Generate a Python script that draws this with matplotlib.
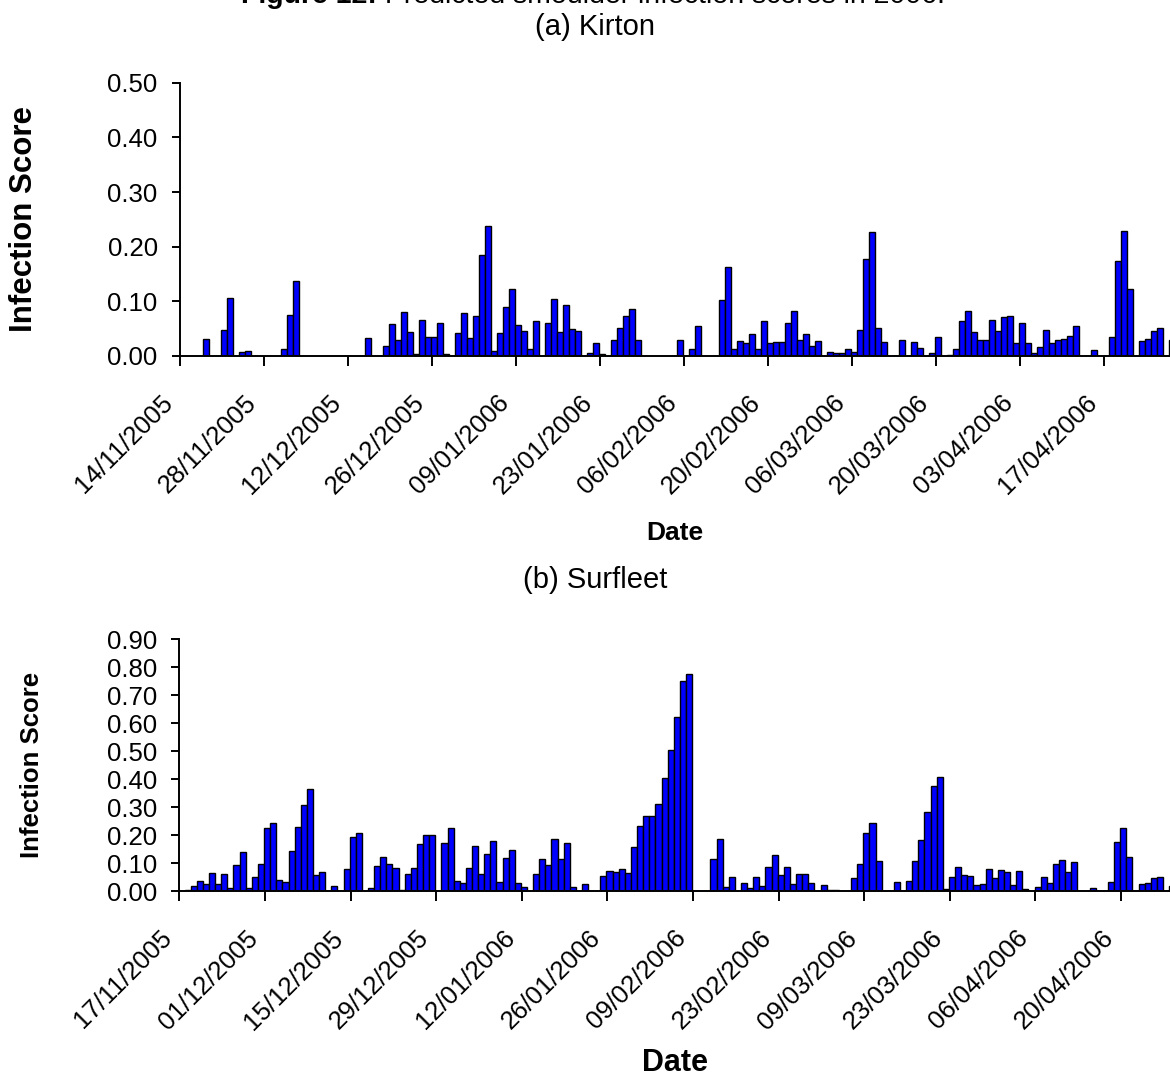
import matplotlib
matplotlib.use("Agg")
import matplotlib.pyplot as plt
import matplotlib.dates as mdates
import matplotlib.transforms as mtransforms
import numpy as np
import pandas as pd

plt.rcParams['font.family'] = ['Liberation Sans', 'DejaVu Sans']

# Kirton, daily scores from 14/11/2005 (one row per week)
kirton_start = "2005-11-14"
kirton = [
    0, 0, 0, 0, 0.031, 0, 0,
    0.048, 0.106, 0, 0.007, 0.009, 0, 0,
    0, 0, 0, 0.012, 0.075, 0.137, 0,
    0, 0, 0, 0, 0, 0, 0,
    0, 0, 0, 0.033, 0, 0, 0.018,
    0.059, 0.029, 0.081, 0.044, 0.004, 0.066, 0.035,
    0.035, 0.060, 0.003, 0, 0.042, 0.079, 0.033,
    0.073, 0.185, 0.237, 0.009, 0.042, 0.090, 0.123,
    0.056, 0.046, 0.012, 0.064, 0, 0.060, 0.105,
    0.044, 0.094, 0.049, 0.045, 0, 0.006, 0.023,
    0.004, 0, 0.029, 0.052, 0.073, 0.085, 0.030,
    0, 0, 0, 0, 0, 0, 0.029,
    0, 0.012, 0.054, 0, 0, 0, 0.102,
    0.162, 0.012, 0.027, 0.023, 0.040, 0.012, 0.064,
    0.023, 0.025, 0.025, 0.060, 0.083, 0.029, 0.041,
    0.018, 0.027, 0, 0.008, 0.006, 0.005, 0.012,
    0.008, 0.048, 0.177, 0.226, 0.051, 0.025, 0,
    0, 0.030, 0, 0.025, 0.014, 0, 0.006,
    0.035, 0, 0.002, 0.012, 0.064, 0.083, 0.043,
    0.030, 0.029, 0.066, 0.045, 0.072, 0.074, 0.023,
    0.060, 0.024, 0.006, 0.016, 0.047, 0.024, 0.029,
    0.031, 0.037, 0.054, 0, 0, 0.010, 0,
    0, 0.035, 0.174, 0.229, 0.123, 0, 0.027,
    0.031, 0.046, 0.051, 0, 0.030,
]

# Surfleet, daily scores from 17/11/2005
surfleet_start = "2005-11-17"
surfleet = [
    0, 0.004, 0.018, 0.038, 0.025, 0.067, 0.025,
    0.061, 0.012, 0.095, 0.139, 0.012, 0.050, 0.099,
    0.227, 0.243, 0.040, 0.033, 0.144, 0.231, 0.308,
    0.365, 0.057, 0.068, 0, 0.018, 0, 0.081,
    0.195, 0.207, 0, 0.011, 0.092, 0.123, 0.096,
    0.085, 0.004, 0.061, 0.085, 0.169, 0.200, 0.200,
    0, 0.174, 0.227, 0.037, 0.030, 0.085, 0.161,
    0.061, 0.132, 0.181, 0.035, 0.119, 0.146, 0.030,
    0.014, 0, 0.061, 0.114, 0.093, 0.186, 0.114,
    0.173, 0.014, 0, 0.027, 0, 0, 0.054,
    0.074, 0.068, 0.081, 0.064, 0.157, 0.235, 0.270,
    0.270, 0.313, 0.406, 0.505, 0.623, 0.750, 0.777,
    0, 0, 0, 0.115, 0.186, 0.014, 0.050,
    0, 0.029, 0.011, 0.050, 0.018, 0.086, 0.131,
    0.057, 0.086, 0.026, 0.061, 0.061, 0.031, 0,
    0.021, 0.004, 0.004, 0, 0, 0.046, 0.096,
    0.210, 0.243, 0.108, 0, 0, 0.033, 0,
    0.038, 0.108, 0.182, 0.282, 0.375, 0.407, 0.007,
    0.050, 0.086, 0.057, 0.054, 0.021, 0.027, 0.081,
    0.046, 0.077, 0.068, 0.023, 0.074, 0.007, 0,
    0.014, 0.052, 0.030, 0.096, 0.112, 0.068, 0.104,
    0, 0, 0.012, 0, 0, 0.033, 0.175,
    0.227, 0.123, 0, 0.026, 0.030, 0.046, 0.050,
    0, 0.020,
]

end_date = "2006-04-28"
title_bold = "Figure 12:"
title_rest = " Predicted smoulder infection scores in 2006."

BLUE = "#0000ff"


def draw_panel(fig, ax, start, values, ymax, ylabel_size, xlabel_size, ylab_x, xlab_y):
    dates = pd.date_range(start, periods=len(values), freq="D")
    x = mdates.date2num(dates) - 0.15
    ax.bar(x, values, width=1.0, align="edge", color=BLUE,
           edgecolor="black", linewidth=1.0)
    ax.set_xlim(mdates.date2num(pd.Timestamp(start)),
                mdates.date2num(pd.Timestamp(end_date)))
    ax.set_ylim(0, ymax)
    ticks = pd.date_range(start, end_date, freq="14D")
    ax.set_xticks(mdates.date2num(ticks))
    ax.set_xticklabels([t.strftime("%d/%m/%Y") for t in ticks], rotation=45,
                       ha="right", va="center", rotation_mode="anchor")
    ax.set_yticks(np.arange(0, ymax + 0.001, 0.1))
    ax.yaxis.set_major_formatter(plt.FormatStrFormatter("%.2f"))
    for s in ["top", "right"]:
        ax.spines[s].set_visible(False)
    for s in ["left", "bottom"]:
        ax.spines[s].set_linewidth(1.4)
    ax.tick_params(axis="y", direction="out", length=6, width=1.4,
                   labelsize=18.5, pad=10)
    ax.tick_params(axis="x", direction="out", length=7, width=1.4,
                   labelsize=18.5, pad=24)
    # nudge the slanted date labels a little to the left (after tick_params,
    # which would otherwise reset the label transforms)
    shift = mtransforms.ScaledTranslation(-0.11, 0, fig.dpi_scale_trans)
    for tick in ax.xaxis.get_major_ticks():
        tick.label1.set_transform(tick.label1.get_transform() + shift)
    ax.set_ylabel("Infection Score", fontsize=ylabel_size, weight="bold")
    ax.yaxis.set_label_coords(ylab_x, 0.5)
    ax.yaxis.label.set_va("center")
    ax.set_xlabel("Date", fontsize=xlabel_size, weight="bold")
    ax.xaxis.set_label_coords(0.5, xlab_y)
    ax.xaxis.label.set_va("center")


fig = plt.figure(figsize=(11.7, 10.77), dpi=100)

ax1 = fig.add_axes([0.1538, 0.6695, 0.8462, 0.2537])
draw_panel(fig, ax1, kirton_start, kirton, 0.5, 22.5, 19, -0.1576, -0.648)

ax2 = fig.add_axes([0.1533, 0.1724, 0.8467, 0.2340])
draw_panel(fig, ax2, surfleet_start, surfleet, 0.9, 18.5, 22, -0.1487, -0.681)

fig.text(0.5085, 1 - 27 / 1077, "(a) Kirton", ha="center", va="center", fontsize=21)
fig.text(0.5085, 1 - 580 / 1077, "(b) Surfleet", ha="center", va="center", fontsize=21)

# main title, partly cut off at the top edge as in the source figure
ty = 1 - 3 / 1077
t1 = fig.text(0, ty, title_bold, weight="bold", fontsize=20.5, va="baseline")
t2 = fig.text(0, ty, title_rest, fontsize=20.5, va="baseline")
fig.canvas.draw()
r = fig.canvas.get_renderer()
w1 = t1.get_window_extent(r).width / fig.bbox.width
w2 = t2.get_window_extent(r).width / fig.bbox.width
x0 = 593 / 1170 - (w1 + w2) / 2
t1.set_x(x0)
t2.set_x(x0 + w1)

fig.savefig("out.png", dpi=100)
